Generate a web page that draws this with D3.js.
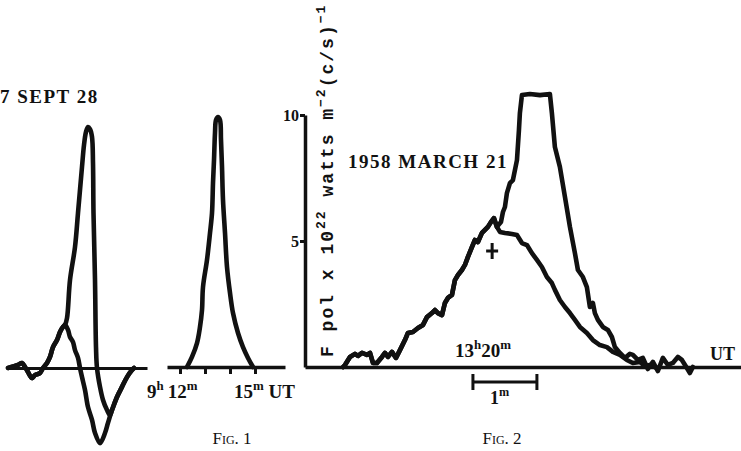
<!DOCTYPE html>
<html>
<head>
<meta charset="utf-8">
<script src="https://cdn.jsdelivr.net/npm/d3@7"></script>
<style>
  body { margin: 0; background: #fff; }
  svg { display: block; background: #fff; }
  .curve { fill: none; stroke: #111; stroke-width: 4.6; stroke-linejoin: round; stroke-linecap: round; }
  .serif { font-family: "Liberation Serif", "DejaVu Serif", serif; fill: #111; }
  .mono { font-family: "Liberation Mono", "DejaVu Sans Mono", monospace; font-weight: bold; fill: #111; }
</style>
</head>
<body>
<svg id="chart" width="741" height="451"></svg>
<script>
// values: [time in minutes, flux in 10^22 units]

// Fig 1, left panel (1957 Sept 28), both curves share the early rise
const fig1LeftShared = [[0.04,0],[0.44,0.12],[0.60,0.20],[0.72,0.04],[0.84,-0.16],[1.00,-0.40],[1.12,-0.28],
  [1.32,-0.20],[1.44,0],[1.60,0.20],[1.72,0.44],[1.84,0.83],[2.00,1.11],[2.12,1.43],[2.24,1.63],[2.32,1.71]];
const fig1LeftHump = [[2.44,1.51],[2.52,1.23],[2.64,1.03],[2.72,0.71],[2.84,0.40],[2.92,0],[3.00,-0.36],
  [3.12,-0.87],[3.24,-1.55],[3.40,-2.06],[3.52,-2.58],[3.72,-2.98],[3.92,-2.58],[4.04,-2.18],[4.20,-1.67],
  [4.40,-1.15],[4.60,-0.75],[4.80,-0.36],[5.00,-0.08],[5.08,0]];
const fig1LeftPeak = [[2.40,1.98],[2.52,3.49],[2.72,4.80],[2.84,6.15],[3.00,7.98],[3.08,8.85],[3.16,9.37],
  [3.24,9.56],[3.32,9.48],[3.40,9.17],[3.44,8.13],[3.46,6.15],[3.52,3.49],[3.56,0.83],[3.60,0],[3.72,-0.75],
  [3.84,-1.27],[4.00,-1.67],[4.12,-1.87],[4.20,-1.67],[4.40,-1.15],[4.60,-0.75],[4.80,-0.36],[5.00,-0.08],[5.08,0]];

// Fig 1, right panel (minutes after 9h)
const fig1Right = [[12.28,0],[12.48,0.40],[12.68,0.95],[12.80,1.59],[12.88,2.26],[12.92,3.17],[13.08,4.25],
  [13.20,5.32],[13.28,6.11],[13.32,7.30],[13.36,8.21],[13.40,9.29],[13.44,9.80],[13.52,9.92],[13.60,9.80],
  [13.64,9.01],[13.68,7.94],[13.72,6.63],[13.80,5.32],[13.88,3.97],[14.00,2.94],[14.12,2.14],[14.32,1.35],
  [14.52,0.79],[14.72,0.36],[14.92,0]];
const fig1RightTicks = [12, 13, 14, 15];

// Fig 2 (minutes after 13h20m), shared rise then the two branches
const fig2Rise = [[-2.03,0],[-2.0,0.08],[-1.922,0.40],[-1.844,0.52],[-1.797,0.44],[-1.734,0.56],[-1.656,0.48],
  [-1.609,0.56],[-1.563,0.16],[-1.5,0.16],[-1.422,0.40],[-1.375,0.56],[-1.328,0.40],[-1.266,0.60],[-1.203,0.36],
  [-1.141,0.67],[-1.063,1.07],[-1.016,1.35],[-0.938,1.39],[-0.859,1.55],[-0.781,1.67],[-0.719,1.98],[-0.641,2.14],
  [-0.594,2.26],[-0.547,2.14],[-0.484,2.06],[-0.438,2.54],[-0.391,2.74],[-0.328,2.86],[-0.281,3.45],[-0.234,3.65],
  [-0.172,3.85],[-0.125,4.05],[-0.078,4.37],[-0.016,4.76],[0.031,5.04],[0.078,4.96],[0.141,5.32],[0.188,5.44],
  [0.234,5.56],[0.281,5.75],[0.328,5.91],[0.375,5.56]];
const fig2PolTail = [[0.422,5.36],[0.5,5.32],[0.609,5.28],[0.688,5.24],[0.766,4.92],[0.844,4.84],[0.922,4.52],
  [1.0,4.25],[1.078,3.97],[1.156,3.57],[1.234,3.33],[1.281,3.06],[1.359,2.66],[1.438,2.38],[1.516,2.14],
  [1.594,1.87],[1.672,1.59],[1.781,1.35],[1.875,1.07],[1.984,0.87],[2.094,0.79],[2.188,0.60],[2.297,0.48],
  [2.406,0.28],[2.5,0.16],[2.609,0.20],[2.688,0.04],[2.766,0.08],[2.844,0]];
const fig2TotalTail = [[0.438,5.75],[0.469,6.15],[0.5,6.35],[0.531,6.90],[0.578,7.30],[0.625,7.42],[0.688,8.21],
  [0.719,9.40],[0.734,10.08],[0.766,10.79],[0.891,10.83],[1.047,10.79],[1.203,10.83],[1.234,10.08],[1.281,8.73],
  [1.359,7.94],[1.438,6.75],[1.516,5.56],[1.594,4.52],[1.641,3.85],[1.719,3.57],[1.781,3.17],[1.828,2.38],
  [1.875,2.54],[1.906,2.14],[1.953,1.87],[2.031,1.59],[2.109,1.47],[2.172,1.19],[2.219,0.79],[2.297,0.56],
  [2.375,0.36],[2.453,0.52],[2.5,0.48],[2.578,0.28],[2.656,0.36],[2.734,-0.08],[2.813,0.20],[2.891,-0.16],
  [2.969,0.36],[3.047,0.08],[3.125,0.16],[3.203,0.40],[3.266,0.28],[3.344,-0.04],[3.391,-0.24],[3.438,0]];
const fig2YTicks = [5, 10];
const fig2ScaleBar = [0, 1];
const fig2Cross = [0.30, 4.6];

const svg = d3.select("#chart");

const x1L = d3.scaleLinear().domain([0, 5.6]).range([7, 147]);
const y1L = d3.scaleLinear().domain([0, 10]).range([368, 116]);
const x1R = d3.scaleLinear().domain([11.48, 16.2]).range([167, 285]);
const y1R = d3.scaleLinear().domain([0, 10]).range([367, 115]);
const x2 = d3.scaleLinear().domain([-2.625, 4.19]).range([305, 741]);
const y2 = d3.scaleLinear().domain([0, 10]).range([367, 115]);

function styleAxis(g, w) {
  g.select(".domain").attr("stroke", "#111").attr("stroke-width", w);
  g.selectAll(".tick line").attr("stroke", "#111").attr("stroke-width", 3);
  g.selectAll(".tick text").attr("fill", "#111");
}

// text with superscript pieces, parts = [[text, isSup, dx]]
function supText(x, y, size, parts, cls) {
  const t = svg.append("text").attr("class", cls || "serif").attr("x", x).attr("y", y)
    .attr("font-size", size).attr("font-weight", "bold");
  let up = false;
  parts.forEach(([s, sup, dx]) => {
    const ts = t.append("tspan").text(s);
    if (sup && !up) { ts.attr("dy", -size * 0.42); up = true; }
    else if (!sup && up) { ts.attr("dy", size * 0.42); up = false; }
    ts.attr("font-size", sup ? size * 0.68 : size);
    if (dx) ts.attr("dx", dx);
  });
  return t;
}

// ---- Fig 1 left
svg.append("g").attr("transform", `translate(0,${y1L(0)})`)
  .call(d3.axisBottom(x1L).tickValues([]).tickSizeOuter(0))
  .call((g) => styleAxis(g, 3));

const line1L = d3.line().x((d) => x1L(d[0])).y((d) => y1L(d[1])).curve(d3.curveCatmullRom.alpha(0.5));
svg.append("path").attr("class", "curve").attr("d", line1L(fig1LeftShared.concat(fig1LeftHump)));
svg.append("path").attr("class", "curve").attr("d", line1L(fig1LeftShared.concat(fig1LeftPeak)));

svg.append("text").attr("class", "serif").attr("x", 0).attr("y", 103)
  .attr("font-size", 19).attr("font-weight", "bold").attr("letter-spacing", 1.5)
  .text("7 SEPT 28");

// ---- Fig 1 right
svg.append("g").attr("transform", `translate(0,${y1R(0)})`)
  .call(d3.axisBottom(x1R).tickValues(fig1RightTicks).tickSize(7).tickSizeOuter(0).tickFormat(""))
  .call((g) => styleAxis(g, 3.5));

const line1R = d3.line().x((d) => x1R(d[0])).y((d) => y1R(d[1])).curve(d3.curveCatmullRom.alpha(0.5));
svg.append("path").attr("class", "curve").attr("stroke-width", 5).attr("d", line1R(fig1Right));

supText(147, 398, 19, [["9"], ["h", true], ["12", false, 4], ["m", true]]);
supText(234, 398, 19, [["15"], ["m", true], [" UT", false]]);

// ---- Fig 2
svg.append("g").attr("transform", `translate(${x2.range()[0]},0)`)
  .call(d3.axisLeft(y2).tickValues(fig2YTicks).tickSize(5).tickSizeOuter(0).tickPadding(1))
  .call((g) => styleAxis(g, 3.5))
  .call((g) => g.selectAll(".tick text").attr("class", "serif").attr("font-size", 16)
    .attr("font-weight", "bold").attr("font-family", null));

svg.append("g").attr("transform", `translate(0,${y2(0)})`)
  .call(d3.axisBottom(x2).tickValues([]).tickSizeOuter(0))
  .call((g) => styleAxis(g, 3.5));

const line2 = d3.line().x((d) => x2(d[0])).y((d) => y2(d[1])).curve(d3.curveLinear);
svg.append("path").attr("class", "curve").attr("d", line2(fig2Rise.concat(fig2PolTail)));
svg.append("path").attr("class", "curve").attr("d", line2(fig2Rise.concat(fig2TotalTail)));

// cross
const cx = x2(fig2Cross[0]), cy = y2(fig2Cross[1]);
svg.append("path").attr("d", `M${cx - 6},${cy}H${cx + 6}M${cx},${cy - 8}V${cy + 8}`)
  .attr("stroke", "#111").attr("stroke-width", 3).attr("fill", "none");

// one-minute scale bar
const sbY = 382;
svg.append("path")
  .attr("d", `M${x2(fig2ScaleBar[0])},${sbY}H${x2(fig2ScaleBar[1])}` +
    `M${x2(fig2ScaleBar[0])},${sbY - 8}V${sbY + 8}M${x2(fig2ScaleBar[1])},${sbY - 8}V${sbY + 8}`)
  .attr("stroke", "#111").attr("stroke-width", 3).attr("fill", "none");
supText(x2(0) + 17, 404, 18, [["1"], ["m", true]]);

supText(x2(0) - 18, 357, 19, [["13"], ["h", true], ["20", false], ["m", true]]);

svg.append("text").attr("class", "serif").attr("x", 710).attr("y", 360)
  .attr("font-size", 18).attr("font-weight", "bold").text("UT");

svg.append("text").attr("class", "serif").attr("x", 348).attr("y", 168)
  .attr("font-size", 19).attr("font-weight", "bold").attr("letter-spacing", 1.5)
  .text("1958 MARCH 21");

// rotated y label, reads bottom to top, inside the plot
const yl = svg.append("text").attr("class", "mono").attr("font-size", 18)
  .attr("letter-spacing", 2)
  .attr("transform", "translate(333,357) rotate(-90)");
[["F pol x 10", false], ["22", true], [" watts m", false], ["\u22122", true], ["(c/s)", false], ["\u22121", true]]
  .forEach(([s, sup], i) => {
    const ts = yl.append("tspan").text(s).attr("font-size", sup ? 13 : 18);
    if (i > 0) ts.attr("dy", sup ? -8 : 8);
  });

// captions, low on the page as in the scan
svg.append("text").attr("class", "serif").attr("x", 232).attr("y", 444).attr("text-anchor", "middle")
  .attr("font-size", 17).style("font-variant", "small-caps").text("Fig. 1");
svg.append("text").attr("class", "serif").attr("x", 502).attr("y", 444).attr("text-anchor", "middle")
  .attr("font-size", 17).style("font-variant", "small-caps").text("Fig. 2");
</script>
</body>
</html>
